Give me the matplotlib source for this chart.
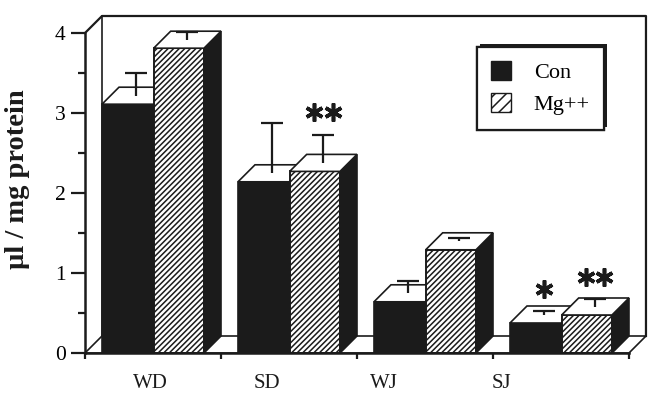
import matplotlib
matplotlib.use("Agg")
import matplotlib.pyplot as plt
import matplotlib.patheffects as pe
from matplotlib.patches import Polygon, Rectangle, Patch
import numpy as np

plt.rcParams['font.family'] = ['Liberation Serif', 'DejaVu Serif']
plt.rcParams['hatch.linewidth'] = 1.1

# data (ul / mg protein)
groups = ["WD", "SD", "WJ", "SJ"]
con = [3.11, 2.14, 0.64, 0.375]
mg = [3.81, 2.27, 1.29, 0.475]
con_err = [0.28, 0.63, 0.16, 0.04]
mg_err = [0.09, 0.35, 0.04, 0.09]
con_stars = ["", "", "", "*"]
mg_stars = ["", "**", "", "**"]

# pseudo-3d geometry, in data units
DX, DY = 0.125, 0.2125
W_CON, W_MG = 0.38, 0.37
OFF = 0.125
INK = "#1b1b1b"
LW = 1.2

fig = plt.figure(figsize=(6.54, 3.93), dpi=100)
ax = fig.add_axes([0, 0, 1, 1])
ax.set_xlim(-0.625, 4.184)
ax.set_ylim(-0.5, 4.4125)

n = len(groups)
ymax = 4

# back wall and floor
ax.plot([DX, DX], [DY, ymax + DY], color=INK, lw=LW, zorder=1)
ax.plot([0, DX, n + DX, n + DX], [ymax, ymax + DY, ymax + DY, DY], color=INK, lw=1.6, zorder=1)
ax.add_patch(Polygon([(0, 0), (n, 0), (n + DX, DY), (DX, DY)], closed=True,
                     facecolor="white", edgecolor=INK, lw=LW, zorder=1))


def top_face(x0, x1, v, z):
    return Polygon([(x0, v), (x1, v), (x1 + DX, v + DY), (x0 + DX, v + DY)], closed=True,
                   facecolor="white", edgecolor=INK, lw=LW, zorder=z)


def err_bar(xc, v, e):
    xm, ym = xc + DX / 2, v + DY / 2
    ax.vlines(xm, ym, ym + e, color=INK, lw=1.6, zorder=25)
    ax.hlines(ym + e, xm - 0.08, xm + 0.08, color=INK, lw=1.6, zorder=25)
    return xm, ym + e


def stars(xs, ys, s):
    for k in range(len(s)):
        ax.plot(xs + (k - (len(s) - 1) / 2) * 0.135, ys + 0.28, ls="none",
                marker=(6, 2, 0), ms=13, mew=2.6, color=INK, zorder=26)


for i in range(n):
    z = 2 + i * 3
    # control bar
    x0 = i + OFF
    x1 = x0 + W_CON
    ax.add_patch(Rectangle((x0, 0), W_CON, con[i], facecolor=INK, edgecolor=INK, lw=LW, zorder=z))
    ax.add_patch(top_face(x0, x1, con[i], z))
    xs, ys = err_bar((x0 + x1) / 2, con[i], con_err[i])
    if con_stars[i]:
        stars(xs, ys, con_stars[i])

    # Mg++ bar
    m0 = x1
    m1 = m0 + W_MG
    ax.add_patch(Rectangle((m0, 0), W_MG, mg[i], facecolor="white", edgecolor=INK,
                           hatch="//////", lw=LW, zorder=z + 1))
    ax.add_patch(Rectangle((m0, 0), W_MG, mg[i], facecolor="none", edgecolor=INK, lw=LW, zorder=z + 1))
    ax.add_patch(Polygon([(m1, 0), (m1 + DX, DY), (m1 + DX, mg[i] + DY), (m1, mg[i])], closed=True,
                         facecolor=INK, edgecolor=INK, lw=LW, zorder=z + 1))
    ax.add_patch(top_face(m0, m1, mg[i], z + 1))
    xs, ys = err_bar((m0 + m1) / 2, mg[i], mg_err[i])
    if mg_stars[i]:
        stars(xs, ys, mg_stars[i])

# axes lines and ticks
for s in ["top", "right"]:
    ax.spines[s].set_visible(False)
ax.spines["left"].set_position(("data", 0))
ax.spines["bottom"].set_position(("data", 0))
ax.spines["left"].set_bounds(0, ymax)
ax.spines["bottom"].set_bounds(0, n)
for s in ["left", "bottom"]:
    ax.spines[s].set_linewidth(1.8)
    ax.spines[s].set_color(INK)
    ax.spines[s].set_zorder(20)

ax.set_yticks(np.arange(0, ymax + 1, 1))
ax.set_yticks(np.arange(0.5, ymax, 1), minor=True)
ax.set_xticks(np.arange(0, n + 1, 1))
ax.set_xticklabels([])
ax.tick_params(axis="y", which="major", length=10, width=1.6, pad=4, labelsize=15.5, color=INK)
ax.tick_params(axis="y", which="minor", length=5, width=1.6, color=INK)
ax.tick_params(axis="x", which="major", length=4, width=1.6, color=INK)

for i, g in enumerate(groups):
    ax.text(0.48 + i * 0.86, -0.38, g, ha="center", va="center", fontsize=15, color=INK)

ax.set_ylabel("µl / mg protein", fontsize=20.5, fontweight="bold", color=INK)
ax.yaxis.set_label_coords(0.046, 0.545)

leg = ax.legend(handles=[Patch(facecolor=INK, edgecolor=INK, label="Con"),
                         Patch(facecolor="white", edgecolor=INK, hatch="///", label="Mg++")],
                loc="upper left", bbox_to_anchor=(477 / 654, 1 - 47 / 393),
                bbox_transform=fig.transFigure, fontsize=16, frameon=True, fancybox=False,
                framealpha=1, handlelength=0.9, handleheight=0.9, handletextpad=1.0,
                labelspacing=0.45, borderpad=0.65, borderaxespad=0)
fr = leg.get_frame()
fr.set_facecolor("white")
fr.set_edgecolor(INK)
fr.set_linewidth(1.6)
fr.set_path_effects([pe.withSimplePatchShadow(offset=(2, 2), shadow_rgbFace=INK, alpha=1),
                     pe.Normal()])
leg.set_zorder(30)

fig.savefig("out.png", dpi=100)
